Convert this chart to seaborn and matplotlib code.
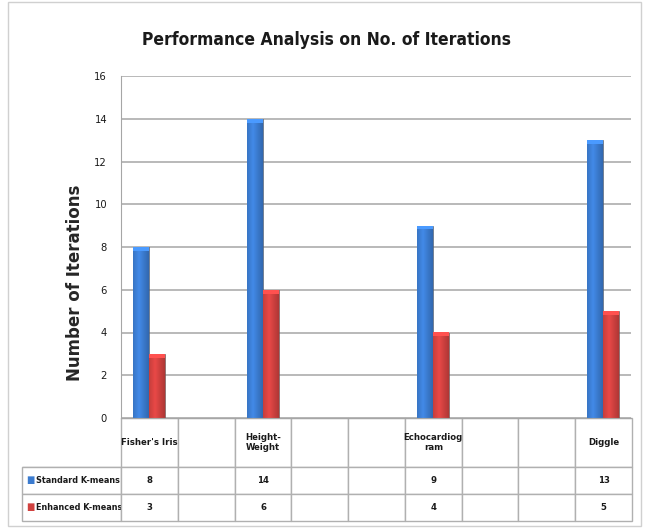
import numpy as np
import pandas as pd
import matplotlib
matplotlib.use("Agg")
import matplotlib.pyplot as plt
from matplotlib.patches import Rectangle
import seaborn as sns

# Data (blank slots are the empty columns of the original Excel table)
categories = ["Fisher's Iris", " ", "Height-Weight", "  ", "   ",
              "Echocardiogram", "    ", "     ", "Diggle"]
header_labels = ["Fisher's Iris", "", "Height-\nWeight", "", "",
                 "Echocardiog\nram", "", "", "Diggle"]
standard_kmeans = [8, np.nan, 14, np.nan, np.nan, 9, np.nan, np.nan, 13]
enhanced_kmeans = [3, np.nan, 6, np.nan, np.nan, 4, np.nan, np.nan, 5]
series_names = ["Standard K-means", "Enhanced K-means"]
colors = ["#3B7BCF", "#D0413F"]

df = pd.DataFrame({
    "Dataset": categories * 2,
    "Iterations": standard_kmeans + enhanced_kmeans,
    "Method": [series_names[0]] * len(categories) + [series_names[1]] * len(categories),
})

sns.set_style("white")
plt.rcParams["font.family"] = ["DejaVu Sans"]
plt.rcParams["font.stretch"] = "condensed"
plt.rcParams["text.color"] = "#1a1a1a"

fig = plt.figure(figsize=(6.46, 5.29), dpi=100)
ax = fig.add_axes([121 / 646, 1 - 418 / 529, 510 / 646, 342 / 529])

sns.barplot(data=df, x="Dataset", y="Iterations", hue="Method", order=categories,
            hue_order=series_names, palette=colors, saturation=1, width=0.56, gap=0,
            edgecolor="#555555", linewidth=0.4, legend=False, ax=ax)

# cylinder-ish shading like the Excel 3D bars
t = np.linspace(0, 1, 60)
shade = 1.12 - 0.45 * np.abs(t - 0.38)
for p in list(ax.patches):
    h = p.get_height()
    if not np.isfinite(h) or h <= 0:
        continue
    rgb = np.array(p.get_facecolor()[:3])
    img = np.clip(rgb[None, None, :] * shade[None, :, None], 0, 1)
    im = ax.imshow(img, extent=[p.get_x(), p.get_x() + p.get_width(), 0, h],
                   aspect="auto", zorder=p.get_zorder() + 0.1, interpolation="bilinear")
    im.set_clip_path(p)
    cap = Rectangle((p.get_x(), h - 0.18), p.get_width(), 0.18,
                    facecolor=np.clip(rgb * 1.25, 0, 1), edgecolor="none",
                    zorder=p.get_zorder() + 0.2)
    ax.add_patch(cap)

ax.set_xlim(-0.5, len(categories) - 0.5)
ax.set_ylim(0, 16)
ax.set_yticks(range(0, 17, 2))
ax.yaxis.grid(True, color="#a6a6a6", linewidth=1.1)
ax.set_axisbelow(True)
ax.tick_params(axis="y", length=0, labelsize=8, pad=10, labelcolor="#1a1a1a")
ax.set_xticks([])
ax.set_xlabel("")
ax.set_ylabel("Number of Iterations", fontweight="bold", fontstretch="normal",
              fontsize=12)
ax.yaxis.set_label_coords(-37 / 510, 0.395)
for side in ["top", "right"]:
    ax.spines[side].set_visible(False)
ax.spines["left"].set_color("#a6a6a6")
ax.spines["bottom"].set_color("#a6a6a6")

# data table under the plot
fmt = lambda v: "" if np.isnan(v) else str(int(v))
cell_text = [["Standard K-means"] + [fmt(v) for v in standard_kmeans],
             ["Enhanced K-means"] + [fmt(v) for v in enhanced_kmeans]]
col_w = [99] + [56.7] * len(categories)
tb = ax.table(cellText=cell_text, colLabels=[""] + header_labels,
              colWidths=col_w, cellLoc="center",
              bbox=[-99 / 510, -103 / 342, 610 / 510, 103 / 342])
tb.auto_set_font_size(False)
for (r, c), cell in tb.get_celld().items():
    cell.set_edgecolor("#b0b0b0")
    cell.set_linewidth(1.0)
    cell.set_height(49 if r == 0 else 27)
    cell.get_text().set_fontsize(6.8)
    cell.get_text().set_fontweight("bold")
    if r == 0 and c == 0:
        cell.visible_edges = "B"
    if c == 0 and r > 0:
        cell.get_text().set_ha("left")
        cell.get_text().set_fontsize(6.5)
        cell.PAD = 0.14

# legend keys inside the row label cells
for i, col in enumerate(colors):
    y = (418 - (480 + 27 * i)) / 342
    ax.text(-95 / 510, y, "\u25A0", color=col, fontsize=7,
            transform=ax.transAxes, va="center", ha="left", clip_on=False)

fig.text(0.506, 0.925, "Performance Analysis on No. of Iterations",
         ha="center", va="center", fontsize=12.5, fontweight="bold")
fig.patches.append(Rectangle((0.012, 0.006), 0.98, 0.99, transform=fig.transFigure,
                             fill=False, edgecolor="#d0d0d0", linewidth=1))

fig.savefig("out.png", dpi=100)
